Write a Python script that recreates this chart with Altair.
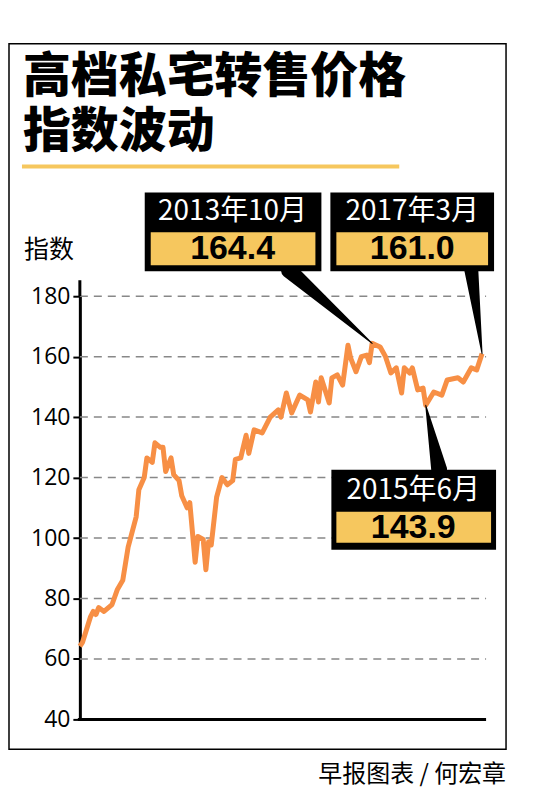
import pandas as pd
import altair as alt

# month index counted from 2004-09 (0) to 2017-03 (150)
months = [0, 1, 4, 5, 6, 7, 9, 12, 14, 16, 18, 21, 22, 24, 25, 27, 28, 30, 31, 32,
          34, 35, 37, 38, 40, 41, 43, 44, 46, 47, 48, 49, 51, 53, 55, 57, 58, 60, 62, 63,
          65, 68, 71, 74, 75, 77, 79, 82, 85, 86, 88, 89, 90, 93, 94, 96, 98, 100, 101, 103,
          105, 107, 108, 109, 112, 114, 116, 118, 120, 121, 123, 124, 126, 128, 129, 132, 135, 137, 141, 143,
          146, 148, 150]
index = [64.2, 65.5, 74.0, 75.7, 74.7, 77.0, 75.7, 78.0, 83.0, 86.0, 97.0, 107.0, 116.0, 120.0, 126.5, 125.0, 131.5, 130.0, 130.0, 122.0,
         126.5, 121.0, 119.0, 114.0, 110.0, 111.7, 92.0, 100.5, 99.5, 89.5, 98.8, 97.7, 113.5, 120.0, 117.6, 119.0, 126.0, 126.5, 134.0, 128.0,
         135.8, 134.8, 140.0, 142.4, 140.0, 148.0, 141.4, 147.3, 145.7, 141.7, 151.6, 145.0, 153.0, 144.7, 153.0, 154.0, 150.6, 163.8, 159.5, 155.0,
         160.0, 160.5, 158.0, 164.4, 163.2, 160.0, 154.6, 156.3, 148.0, 156.3, 154.6, 156.3, 149.0, 149.6, 143.9, 148.3, 147.3, 152.3, 153.0, 151.6,
         156.3, 155.6, 161.0]

callout_dates = ["2013年10月", "2017年3月", "2015年6月"]
callout_values = ["164.4", "161.0", "143.9"]

df = pd.DataFrame({"m": months, "v": index})

W, H = 407, 424
xs = alt.Scale(domain=[0, 151.5], nice=False)
ys = alt.Scale(domain=[40, 180], nice=False)
FONT = "Noto Sans CJK SC"
ORANGE = "#f78f45"
YELLOW = "#f6c75e"

line = alt.Chart(df).mark_line(color=ORANGE, strokeWidth=5, strokeJoin="round").encode(
    x=alt.X("m:Q", scale=xs, axis=None),
    y=alt.Y("v:Q", scale=ys, axis=alt.Axis(
        values=[40, 60, 80, 100, 120, 140, 160, 180], title=None, labelFont="Open Sans",
        labelFontSize=23, labelColor="black", domainColor="black", domainWidth=3,
        tickColor="black", tickSize=7, tickWidth=2, labelPadding=3,
        grid=False)),
)

grid = pd.DataFrame({"g": [60, 80, 100, 120, 140, 160, 180]})
gridlines = alt.Chart(grid).mark_rule(color="#888", strokeDash=[8, 6], strokeWidth=1.5).encode(
    y=alt.Y("g:Q", scale=ys), x=alt.value(0), x2=alt.value(W))

# pointer wedges from the callout boxes to the points
ptr = pd.DataFrame({
    "id": [0, 0, 1, 1, 2, 2],
    "o": [0, 1, 0, 1, 0, 1],
    "m": [78, 109, 146, 150, 134, 129],
    "v": [188.6, 164.4, 188.6, 161.0, 122.6, 143.9],
    "w": [16, 1, 14, 1, 16, 1],
})
pointers = alt.Chart(ptr).mark_trail(color="black").encode(
    x=alt.X("m:Q", scale=xs), y=alt.Y("v:Q", scale=ys),
    detail="id:N", order="o:Q", size=alt.Size("w:Q", scale=None, legend=None))

boxes = pd.DataFrame({
    "x1": [65, 251, 252], "x2": [242, 415, 417],
    "y1": [-104, -104, 174], "y2": [-25, -25, 254],
    "yx1": [71, 257, 257], "yx2": [236, 409, 412],
    "yy1": [-64, -64, 216], "yy2": [-31, -31, 247],
    "cx": [153, 333, 334], "dy": [-84, -84, 195], "ny": [-47, -47, 232],
    "date": callout_dates, "val": callout_values,
})
base = alt.Chart(boxes)
black = base.mark_rect(color="black").encode(
    x=alt.X("x1:Q", scale=None), x2="x2:Q", y=alt.Y("y1:Q", scale=None), y2="y2:Q")
yel = base.mark_rect(color=YELLOW).encode(
    x=alt.X("yx1:Q", scale=None), x2="yx2:Q", y=alt.Y("yy1:Q", scale=None), y2="yy2:Q")
dates = base.mark_text(color="white", font=FONT, fontSize=28, baseline="middle").encode(
    x=alt.X("cx:Q", scale=None), y=alt.Y("dy:Q", scale=None), text="date:N")
vals = base.mark_text(color="black", font="Liberation Sans", fontWeight="bold", fontSize=34,
                      baseline="middle").encode(
    x=alt.X("cx:Q", scale=None), y=alt.Y("ny:Q", scale=None), text="val:N")

frame = alt.Chart(pd.DataFrame({"a": [0]})).mark_rect(
    fill=None, stroke="black", strokeWidth=1.5).encode(
    x=alt.value(-71), x2=alt.value(427), y=alt.value(-253), y2=alt.value(454))
yaxis_ext = alt.Chart(pd.DataFrame({"a": [0]})).mark_rule(color="black", strokeWidth=3).encode(
    x=alt.value(0), y=alt.value(-16), y2=alt.value(0))
xaxis = alt.Chart(pd.DataFrame({"a": [0]})).mark_rule(color="black", strokeWidth=3).encode(
    x=alt.value(-2), x2=alt.value(W), y=alt.value(H))
underline = alt.Chart(pd.DataFrame({"a": [0]})).mark_rule(color=YELLOW, strokeWidth=4).encode(
    x=alt.value(-58), x2=alt.value(320), y=alt.value(-130))

texts = pd.DataFrame({
    "t": ["高档私宅转售价格", "指数波动", "指数", "早报图表 / 何宏章"],
    "x": [-57, -57, -56, 427], "y": [-219, -163, -46, 480],
    "s": [48, 48, 25, 24], "wt": [900, 900, 400, 400],
    "al": ["left", "left", "left", "right"],
})
title_parts = []
for _, r in texts.iterrows():
    title_parts.append(alt.Chart(pd.DataFrame({"t": [r.t]})).mark_text(
        font=FONT, fontSize=int(r.s), fontWeight=int(r.wt), align=r.al,
        baseline="middle", color="black").encode(
        x=alt.value(int(r.x)), y=alt.value(int(r.y)), text="t:N"))

chart = alt.layer(gridlines, frame, underline, line, yaxis_ext, xaxis, pointers,
                  black, yel, dates, vals, *title_parts).properties(
    width=W, height=H, autosize=alt.AutoSizeParams(type="none"),
    padding={"left": 72, "top": 288, "right": 40, "bottom": 80},
).configure_view(stroke=None)

chart.save("out.html", embed_options={"renderer": "svg", "actions": False})
